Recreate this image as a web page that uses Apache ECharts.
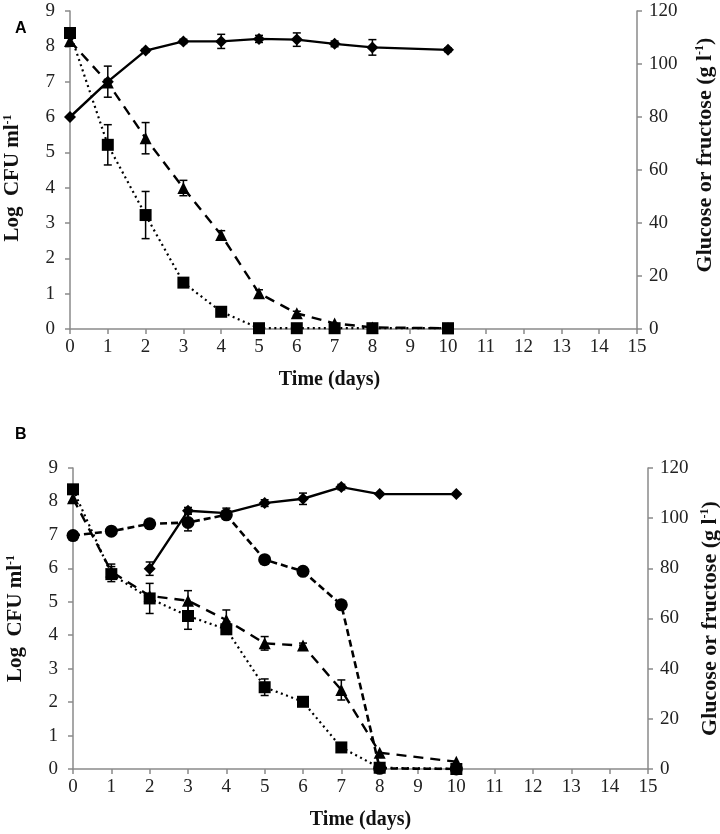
<!DOCTYPE html>
<html><head><meta charset="utf-8">
<script src="https://cdn.jsdelivr.net/npm/echarts@6/dist/echarts.min.js"></script>
<style>html,body{margin:0;padding:0;background:#fff}#c{width:720px;height:834px}</style>
</head><body><div id="c"></div>
<script>
// ---- data ----
const days = [0, 1, 2, 3, 4, 5, 6, 7, 8, 10];

// Panel A
const aCfu      = [6.0, 7.0, 7.88, 8.14, 8.14, 8.21, 8.19, 8.07, 7.97, 7.9];
const aCfuErr   = [0, 0.44, 0.05, 0.06, 0.2, 0.1, 0.19, 0.08, 0.22, 0.05];
const aSquare   = [111.7, 69.5, 43.0, 17.5, 6.5, 0.3, 0.3, 0.3, 0.3, 0.3];
const aSquareErr= [0, 7.6, 8.9, 0, 0, 0, 0, 0, 0, 0];
const aTri      = [108.7, 93.0, 72.0, 53.2, 35.5, 13.5, 5.9, 2.1, 0.6, 0.3];
const aTriErr   = [0, 0, 5.9, 2.9, 1.6, 1.3, 0.8, 0, 0, 0];

// Panel B
const bCircle   = [6.98, 7.11, 7.33, 7.37, 7.6, 6.26, 5.91, 4.91, 0.02, 0];
const bCircleErr= [0, 0, 0, 0.25, 0, 0, 0, 0.1, 0, 0];
const bDiamond  = [null, null, 5.99, 7.72, 7.65, 7.95, 8.08, 8.43, 8.22, 8.22];
const bDiamondErr=[0, 0, 0.2, 0.1, 0.15, 0.1, 0.17, 0.08, 0, 0];
const bSquare   = [111.5, 77.7, 68.0, 61.0, 55.7, 32.6, 26.8, 8.6, 0.5, 0];
const bSquareErr= [0, 3.0, 6.0, 5.3, 0, 3.3, 0, 0, 0, 0];
const bTri      = [107.9, 78.7, 69.0, 67.1, 59.4, 50.1, 49.2, 31.5, 6.5, 2.9];
const bTriErr   = [0, 3.0, 0, 4.0, 4.0, 2.7, 1.0, 4.0, 0, 0];

const xMin = 0, xMax = 15, xInterval = 1;
const cfuMin = 0, cfuMax = 9, cfuInterval = 1;
const sugMin = 0, sugMax = 120, sugInterval = 20;

const panelLabels = ['A', 'B'];
const xTitle = 'Time (days)';
const leftTitle = 'Log  CFU ml{sup|-1}';
const rightTitle = 'Glucose or fructose (g l{sup|-1})';

// ---- helpers ----
const serif = 'Liberation Serif';
const axisColor = '#8a8a8a';
const pairs = (vals) => days.map((d, i) => [d, vals[i]]);

function errSeries(xi, yi, vals, errs) {
  const data = [];
  days.forEach((d, i) => {
    if (vals[i] != null && errs[i] > 0) data.push([d, vals[i] - errs[i], vals[i] + errs[i]]);
  });
  return {
    type: 'custom', xAxisIndex: xi, yAxisIndex: yi, data, z: 1, silent: true,
    encode: { x: 0, y: [1, 2] },
    renderItem(params, api) {
      const x = api.value(0);
      const lo = api.coord([x, api.value(1)]);
      const hi = api.coord([x, api.value(2)]);
      const hw = 4;
      const st = { stroke: '#000', lineWidth: 1.5 };
      return { type: 'group', children: [
        { type: 'line', shape: { x1: lo[0], y1: lo[1], x2: hi[0], y2: hi[1] }, style: st },
        { type: 'line', shape: { x1: lo[0] - hw, y1: lo[1], x2: lo[0] + hw, y2: lo[1] }, style: st },
        { type: 'line', shape: { x1: hi[0] - hw, y1: hi[1], x2: hi[0] + hw, y2: hi[1] }, style: st }
      ]};
    }
  };
}

function lineSeries(xi, yi, vals, symbol, size, lineType, width) {
  return {
    type: 'line', xAxisIndex: xi, yAxisIndex: yi, data: pairs(vals),
    symbol, symbolSize: size, showSymbol: true, connectNulls: false,
    itemStyle: { color: '#000' },
    lineStyle: { color: '#000', width: width || 2.2, type: lineType },
    z: 3, silent: true, animation: false
  };
}

const tickLabel = { color: '#222', fontFamily: serif, fontSize: 19 };
const supRich = { sup: { fontSize: 12, verticalAlign: 'top', lineHeight: 14, fontWeight: 'bold', fontFamily: serif, color: '#111' } };
const titleStyle = (extra) => Object.assign({ color: '#111', fontFamily: serif, fontSize: 20, fontWeight: 'bold', rich: supRich, lineHeight: 22 }, extra || {});

function xAxis(gi, pad) {
  return {
    type: 'value', gridIndex: gi, min: xMin, max: xMax, interval: xInterval,
    axisLine: { show: true, lineStyle: { color: axisColor, width: 1.5 } },
    axisTick: { show: true, length: 5, lineStyle: { color: axisColor, width: 1.5 } },
    axisLabel: Object.assign({ margin: 9 }, tickLabel),
    splitLine: { show: false },
    name: xTitle, nameLocation: 'middle', nameGap: 40,
    nameTextStyle: titleStyle({ padding: pad || 0 })
  };
}
function yLeft(gi, pad) {
  return {
    type: 'value', gridIndex: gi, position: 'left', min: cfuMin, max: cfuMax, interval: cfuInterval,
    axisLine: { show: true, lineStyle: { color: axisColor, width: 1.5 } },
    axisTick: { show: true, length: 5, lineStyle: { color: axisColor, width: 1.5 } },
    axisLabel: Object.assign({ margin: 15 }, tickLabel),
    splitLine: { show: false },
    name: leftTitle, nameLocation: 'middle', nameGap: 46, nameRotate: 90,
    nameTextStyle: titleStyle({ fontSize: 21, padding: pad })
  };
}
function yRight(gi, pad, gap) {
  return {
    type: 'value', gridIndex: gi, position: 'right', min: sugMin, max: sugMax, interval: sugInterval,
    axisLine: { show: true, lineStyle: { color: axisColor, width: 1.5 } },
    axisTick: { show: true, length: 5, lineStyle: { color: axisColor, width: 1.5 } },
    axisLabel: Object.assign({ margin: 12 }, tickLabel),
    splitLine: { show: false },
    name: rightTitle, nameLocation: 'middle', nameGap: gap, nameRotate: 90,
    nameTextStyle: titleStyle({ fontSize: 22, padding: pad })
  };
}

const labelStyle = { fontFamily: 'Liberation Sans', fontWeight: 'bold', fontSize: 16, color: '#000' };
const chart = echarts.init(document.getElementById('c'), null, { renderer: 'canvas' });
chart.setOption({
  animation: false,
  backgroundColor: '#fff',
  title: [
    { text: panelLabels[0], left: 10, top: 16, textStyle: labelStyle },
    { text: panelLabels[1], left: 10, top: 422, textStyle: labelStyle }
  ],
  grid: [
    { left: 70, right: 83, top: 11, bottom: 505, containLabel: false, outerBoundsMode: 'none' },
    { left: 73, right: 72, top: 468, bottom: 65, containLabel: false, outerBoundsMode: 'none' }
  ],
  xAxis: [xAxis(0, [0, 48, 0, 0]), xAxis(1)],
  yAxis: [yLeft(0, [0, 16, 0, 0]), yRight(0, [0, 0, 0, 30], 57), yLeft(1, 0), yRight(1, 0, 50)],
  series: [
    errSeries(0, 0, aCfu, aCfuErr),
    errSeries(0, 1, aSquare, aSquareErr),
    errSeries(0, 1, aTri, aTriErr),
    lineSeries(0, 1, aSquare, 'rect', 12, [2, 3.5], 2.2),
    lineSeries(0, 1, aTri, 'triangle', 12, [10, 7], 2.4),
    lineSeries(0, 0, aCfu, 'diamond', 12, 'solid', 2.4),

    errSeries(1, 2, bCircle, bCircleErr),
    errSeries(1, 2, bDiamond, bDiamondErr),
    errSeries(1, 3, bSquare, bSquareErr),
    errSeries(1, 3, bTri, bTriErr),
    lineSeries(1, 3, bSquare, 'rect', 12, [2, 3.5], 2.2),
    lineSeries(1, 3, bTri, 'triangle', 12, [10, 7], 2.4),
    lineSeries(1, 2, bCircle, 'circle', 13, [7, 4], 2.6),
    lineSeries(1, 2, bDiamond, 'diamond', 12, 'solid', 2.4)
  ]
});
</script></body></html>
